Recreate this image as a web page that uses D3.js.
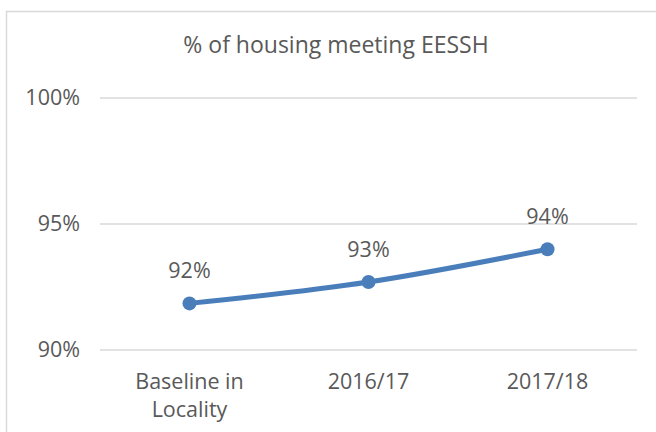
<!DOCTYPE html>
<html lang="en">
<head>
    <script src='https://d3js.org/d3.v7.min.js'> </script>
    <title>% of housing meeting EESSH</title>
    <style>
      body { margin: 0; background: #fff; }
      text { font-family: 'Open Sans', 'Noto Sans', sans-serif; fill: #595959; }
    </style>
</head>
<body>
    <script>
      // chart data
      var categories = [['Baseline in', 'Locality'], ['2016/17'], ['2017/18']];
      var values = [0.9185, 0.927, 0.94];
      var valueLabels = ['92%', '93%', '94%'];
      var yTicks = [0.90, 0.95, 1.00];

      var width = 656, height = 432;
      var margin = {top: 98, right: 19, bottom: 82, left: 100};
      var fs = '21.5px';

      var svg = d3.select('body')
        .append('svg')
        .attr('width', width)
        .attr('height', height);

      // chart frame (only top & left visible in the crop)
      svg.append('rect')
        .attr('x', 6.5).attr('y', 11.5)
        .attr('width', 700).attr('height', 500)
        .attr('fill', 'none')
        .attr('stroke', '#d9d9d9')
        .attr('stroke-width', 1.5);

      var x = d3.scaleBand()
        .domain(d3.range(categories.length))
        .range([margin.left, width - margin.right]);

      var y = d3.scaleLinear()
        .domain([0.90, 1.00])
        .range([height - margin.bottom, margin.top]);

      // title
      svg.append('text')
        .attr('x', 336).attr('y', 53)
        .attr('text-anchor', 'middle')
        .style('font-size', '23px')
        .text('% of housing meeting EESSH');

      // gridlines
      svg.append('g')
        .selectAll('line')
        .data(yTicks)
        .join('line')
        .attr('x1', margin.left)
        .attr('x2', width - margin.right)
        .attr('y1', function(d) { return y(d); })
        .attr('y2', function(d) { return y(d); })
        .attr('stroke', '#d9d9d9')
        .attr('stroke-width', 1.5);

      // y axis labels
      var yAxis = d3.axisLeft(y)
        .tickValues(yTicks)
        .tickFormat(d3.format('.0%'))
        .tickSize(0)
        .tickPadding(20);

      svg.append('g')
        .attr('transform', 'translate(' + margin.left + ',0)')
        .call(yAxis)
        .call(function(g) { g.select('.domain').remove(); })
        .selectAll('text')
        .style('font-size', fs)
        .style('font-family', "'Open Sans', 'Noto Sans', sans-serif")
        .attr('fill', '#595959');

      // x axis labels (multi-line)
      var xl = svg.append('g')
        .selectAll('text')
        .data(categories)
        .join('text')
        .attr('text-anchor', 'middle')
        .style('font-size', fs)
        .attr('x', function(d, i) { return x(i) + x.bandwidth() / 2; })
        .attr('y', 389);

      xl.selectAll('tspan')
        .data(function(d) { return d; })
        .join('tspan')
        .attr('x', function() { return d3.select(this.parentNode).attr('x'); })
        .attr('dy', function(d, i) { return i === 0 ? 0 : 28; })
        .text(function(d) { return d; });

      // line
      var line = d3.line()
        .x(function(d, i) { return x(i) + x.bandwidth() / 2; })
        .y(function(d) { return y(d); })
        .curve(d3.curveCatmullRom.alpha(0));

      svg.append('path')
        .datum(values)
        .attr('d', line)
        .attr('fill', 'none')
        .attr('stroke', '#4a7ebb')
        .attr('stroke-width', 5)
        .attr('stroke-linecap', 'round');

      svg.append('g')
        .selectAll('circle')
        .data(values)
        .join('circle')
        .attr('cx', function(d, i) { return x(i) + x.bandwidth() / 2; })
        .attr('cy', function(d) { return y(d); })
        .attr('r', 7)
        .attr('fill', '#4a7ebb');

      // data labels
      svg.append('g')
        .selectAll('text')
        .data(values)
        .join('text')
        .attr('text-anchor', 'middle')
        .style('font-size', fs)
        .attr('x', function(d, i) { return x(i) + x.bandwidth() / 2; })
        .attr('y', function(d) { return y(d) - 25; })
        .text(function(d, i) { return valueLabels[i]; });
    </script>
</body>
</html>
